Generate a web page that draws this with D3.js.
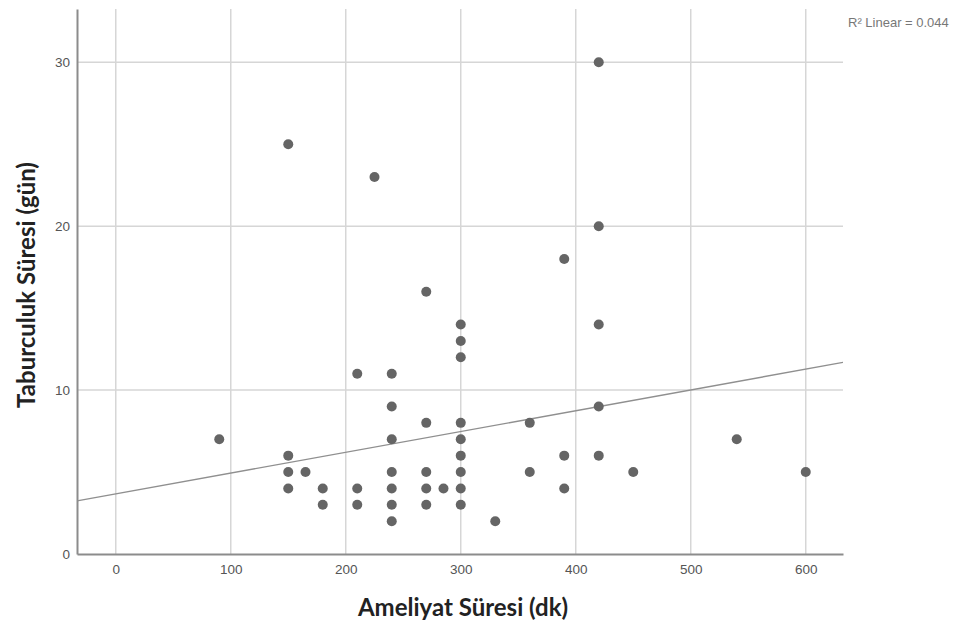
<!DOCTYPE html>
<html>
<head>
<meta charset="utf-8">
<script src="https://cdn.jsdelivr.net/npm/d3@7"></script>
<style>
  body { margin: 0; background: #fff; }
  svg { display: block; }
</style>
</head>
<body>
<div id="chart"></div>
<script>
// Ameliyat süresi (dk) vs taburculuk süresi (gün)
const ameliyatSuresi = [
  90,
  150, 150, 150, 150,
  165,
  180, 180,
  210, 210, 210,
  225,
  240, 240, 240, 240, 240, 240, 240,
  270, 270, 270, 270, 270,
  285,
  300, 300, 300, 300, 300, 300, 300, 300, 300,
  330,
  360, 360,
  390, 390, 390,
  420, 420, 420, 420, 420,
  450,
  540,
  600
];
const taburculukSuresi = [
  7,
  25, 6, 5, 4,
  5,
  4, 3,
  11, 4, 3,
  23,
  11, 9, 7, 5, 4, 3, 2,
  16, 8, 5, 4, 3,
  4,
  14, 13, 12, 8, 7, 6, 5, 4, 3,
  2,
  8, 5,
  18, 6, 4,
  30, 20, 14, 9, 6,
  5,
  7,
  5
];
const xTicks = [0, 100, 200, 300, 400, 500, 600];
const yTicks = [0, 10, 20, 30];
// fit line as shown in the output (intercept, slope)
const fitLine = [3.67, 0.01268];
const rSquareLabel = 'R\u00B2 Linear = 0.044';

const width = 965, height = 632;
const margin = {top: 9, right: 122, bottom: 78, left: 77};

const svg = d3.select('#chart').append('svg')
  .attr('width', width)
  .attr('height', height);

const x = d3.scaleLinear()
  .domain([-33.7, 632.4])
  .range([margin.left, width - margin.right]);

const y = d3.scaleLinear()
  .domain([0, 33.25])
  .range([height - margin.bottom, margin.top]);

const gridColor = '#d6d6d6';
const tickFont = '"Liberation Sans", Arial, sans-serif';
const titleFont = 'Lato, "Open Sans", sans-serif';

// gridlines
svg.append('g')
  .selectAll('line')
  .data(xTicks)
  .enter().append('line')
  .attr('x1', d => x(d)).attr('x2', d => x(d))
  .attr('y1', y.range()[1]).attr('y2', y.range()[0])
  .style('stroke', gridColor)
  .style('stroke-width', '1.5px');

svg.append('g')
  .selectAll('line')
  .data(yTicks.filter(d => d > 0))
  .enter().append('line')
  .attr('x1', x.range()[0]).attr('x2', x.range()[1])
  .attr('y1', d => y(d)).attr('y2', d => y(d))
  .style('stroke', gridColor)
  .style('stroke-width', '1.5px');

// axes
const xAxis = svg.append('g')
  .attr('transform', `translate(0,${y(0)})`)
  .call(d3.axisBottom(x).tickValues(xTicks).tickSize(0).tickPadding(10));

const yAxis = svg.append('g')
  .attr('transform', `translate(${x.range()[0]},0)`)
  .call(d3.axisLeft(y).tickValues(yTicks).tickSize(0).tickPadding(7));

[xAxis, yAxis].forEach(g => {
  g.select('.domain')
    .style('stroke', '#8c8c8c')
    .style('stroke-width', '2px');
  g.selectAll('text')
    .style('font-family', tickFont)
    .style('font-size', '13.5px')
    .style('fill', '#555');
});

// fit line
svg.append('clipPath').attr('id', 'plot-clip')
  .append('rect')
  .attr('x', x.range()[0]).attr('y', y.range()[1])
  .attr('width', x.range()[1] - x.range()[0])
  .attr('height', y.range()[0] - y.range()[1]);

const xd = x.domain();
svg.append('line')
  .attr('clip-path', 'url(#plot-clip)')
  .attr('x1', x(xd[0])).attr('y1', y(fitLine[0] + fitLine[1] * xd[0]))
  .attr('x2', x(xd[1])).attr('y2', y(fitLine[0] + fitLine[1] * xd[1]))
  .style('stroke', '#8f8f8f')
  .style('stroke-width', '1.4px');

// points
const points = ameliyatSuresi.map((v, i) => ({x: v, y: taburculukSuresi[i]}));
svg.append('g')
  .selectAll('circle')
  .data(points)
  .enter().append('circle')
  .attr('cx', d => x(d.x))
  .attr('cy', d => y(d.y))
  .attr('r', 5)
  .style('fill', '#656565');

// titles
svg.append('text')
  .attr('x', 463)
  .attr('y', 616)
  .attr('text-anchor', 'middle')
  .style('font-family', titleFont)
  .style('font-weight', 'bold')
  .style('font-size', '24px')
  .style('fill', '#222')
  .text('Ameliyat Süresi (dk)');

svg.append('text')
  .attr('transform', `translate(35,${285}) rotate(-90)`)
  .attr('text-anchor', 'middle')
  .style('font-family', titleFont)
  .style('font-weight', 'bold')
  .style('font-size', '24px')
  .style('fill', '#222')
  .text('Taburculuk Süresi (gün)');

svg.append('text')
  .attr('x', 848)
  .attr('y', 27)
  .style('font-family', tickFont)
  .style('font-size', '13px')
  .style('fill', '#777')
  .text(rSquareLabel);
</script>
</body>
</html>
